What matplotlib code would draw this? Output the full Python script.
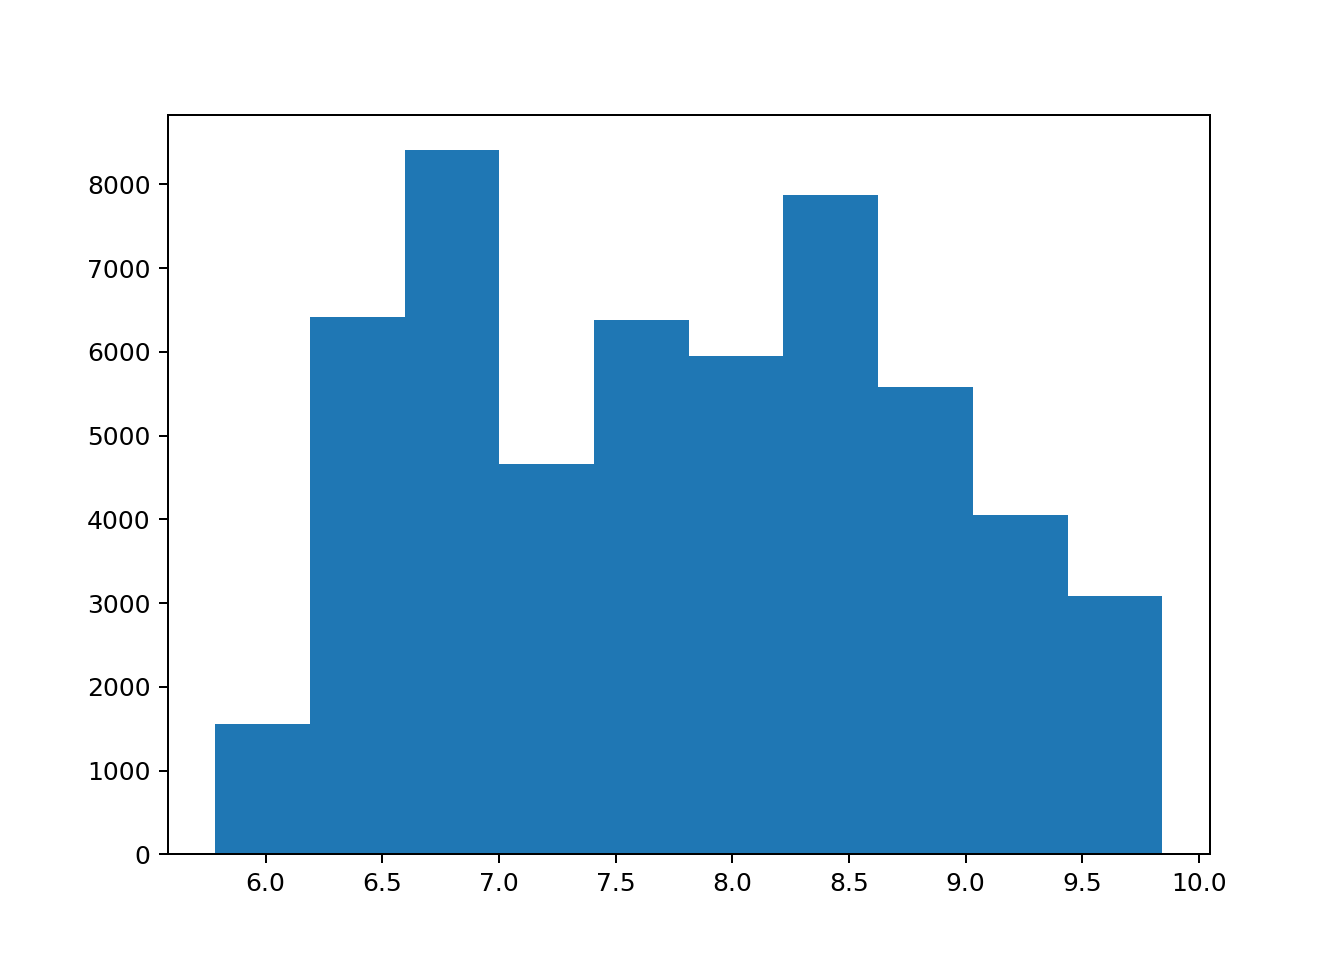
import numpy as np
import matplotlib
matplotlib.use("Agg")
import matplotlib.pyplot as plt

x_min = 5.785
x_max = 9.842
counts = [1552, 6413, 8406, 4657, 6376, 5946, 7869, 5576, 4048, 3081]

edges = np.linspace(x_min, x_max, len(counts) + 1)
centers = (edges[:-1] + edges[1:]) / 2

fig, ax = plt.subplots(figsize=(1344 / 180, 960 / 180), dpi=180)
ax.hist(centers, bins=edges, weights=counts)
fig.savefig("out.png", dpi=180)
